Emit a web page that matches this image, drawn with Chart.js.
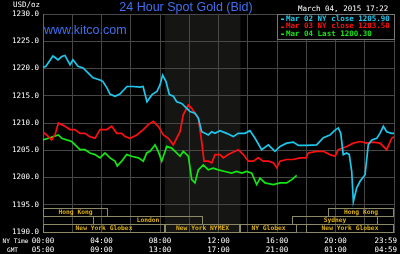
<!DOCTYPE html>
<html>
<head>
<meta charset="utf-8">
<script src="https://cdn.jsdelivr.net/npm/chart.js@4.4.0/dist/chart.umd.min.js"></script>
<style>
  html, body { margin: 0; padding: 0; background: #000; }
</style>
</head>
<body>
<canvas id="goldChart" width="400" height="254"></canvas>
<script>
// Hours since 00:00 NY time, and bid prices
const mar02Hours = [0, 0.2, 0.68, 1.03, 1.28, 1.5, 1.85, 2.05, 2.39, 2.74, 3.08, 3.42, 3.9, 4.1, 4.38, 4.58, 4.92, 5.26, 5.74, 6.15, 6.63, 6.84, 7.11, 7.45, 7.79, 8.0, 8.18, 8.41, 8.64, 8.91, 9.14, 9.48, 9.83, 10.05, 10.39, 10.62, 10.85, 11.08, 11.3, 11.54, 11.76, 12.1, 12.56, 13.01, 13.35, 13.81, 14.15, 14.5, 14.95, 15.41, 15.86, 16.21, 16.66, 17.11, 17.46, 18.03, 18.71, 19.17, 19.62, 19.97, 20.19, 20.36, 20.53, 20.77, 20.94, 21.11, 21.22, 21.45, 21.68, 22.02, 22.24, 22.48, 22.82, 23.04, 23.27, 23.5, 23.84, 24];
const mar02Bid = [1220.2, 1220.4, 1222.3, 1221.6, 1222.2, 1222.4, 1220.7, 1221.6, 1220.4, 1220.1, 1219.2, 1218.3, 1217.9, 1217.6, 1216.4, 1215.3, 1214.9, 1215.3, 1216.7, 1216.7, 1216.6, 1216.7, 1213.9, 1215.2, 1215.8, 1217.0, 1218.8, 1217.6, 1215.2, 1214.9, 1213.9, 1213.6, 1212.7, 1212.1, 1211.8, 1210.9, 1208.4, 1208.1, 1207.8, 1208.4, 1208.1, 1208.6, 1208.1, 1207.5, 1208.1, 1208.1, 1208.6, 1207.2, 1205.1, 1206.0, 1204.8, 1205.7, 1206.3, 1206.5, 1205.9, 1205.9, 1206.0, 1207.3, 1207.8, 1208.7, 1209.1, 1208.1, 1204.2, 1204.5, 1204.2, 1201.1, 1195.6, 1198.1, 1199.3, 1200.5, 1206.0, 1206.9, 1207.2, 1208.1, 1209.4, 1208.4, 1208.1, 1208.1];

const mar03Hours = [0, 0.25, 0.59, 0.82, 1.05, 1.28, 1.5, 1.85, 2.19, 2.53, 2.87, 3.21, 3.56, 3.9, 4.36, 4.7, 5.04, 5.38, 5.61, 5.95, 6.41, 6.86, 7.2, 7.54, 7.88, 8.23, 8.57, 8.91, 9.14, 9.37, 9.59, 9.94, 10.17, 10.39, 10.62, 10.85, 11.01, 11.3, 11.54, 11.76, 12.1, 12.33, 12.67, 13.13, 13.35, 13.7, 14.04, 14.38, 14.72, 15.06, 15.41, 15.75, 15.98, 16.21, 16.66, 17.11, 17.57, 17.98, 18.14, 18.71, 19.17, 19.62, 19.97, 20.19, 20.77, 21.22, 21.68, 22.13, 22.58, 23.04, 23.5, 23.84, 24];
const mar03Bid = [1208.3, 1207.8, 1206.9, 1207.8, 1210.0, 1209.7, 1209.4, 1208.8, 1208.8, 1208.1, 1208.1, 1207.5, 1207.2, 1208.8, 1208.8, 1209.4, 1208.1, 1208.1, 1207.5, 1207.2, 1207.8, 1208.8, 1209.7, 1210.3, 1209.4, 1207.8, 1207.2, 1206.0, 1207.2, 1208.4, 1211.5, 1213.3, 1212.7, 1211.8, 1210.9, 1206.6, 1203.0, 1203.0, 1202.7, 1204.2, 1204.2, 1203.6, 1204.2, 1204.8, 1205.1, 1204.2, 1203.0, 1203.0, 1203.6, 1203.0, 1203.0, 1202.7, 1201.8, 1203.0, 1203.3, 1203.3, 1203.6, 1203.6, 1204.5, 1204.8, 1204.8, 1204.2, 1203.9, 1205.1, 1205.7, 1206.3, 1206.6, 1206.3, 1206.5, 1206.3, 1205.1, 1207.2, 1207.5];

const mar04Hours = [0, 0.36, 0.7, 1.05, 1.28, 1.62, 1.96, 2.3, 2.53, 2.87, 3.21, 3.56, 3.9, 4.24, 4.58, 4.92, 5.08, 5.38, 5.72, 6.06, 6.52, 6.86, 7.09, 7.32, 7.66, 7.88, 8.12, 8.46, 8.8, 9.14, 9.37, 9.59, 9.94, 10.17, 10.39, 10.62, 10.96, 11.3, 11.64, 11.99, 12.44, 12.9, 13.24, 13.59, 13.93, 14.27, 14.61, 14.84, 15.18, 15.75, 16.21, 16.66, 17.01, 17.35];
const mar04Bid = [1206.9, 1207.2, 1207.5, 1207.8, 1207.2, 1206.9, 1206.6, 1205.7, 1205.1, 1205.1, 1204.5, 1204.2, 1203.6, 1204.5, 1203.6, 1203.0, 1202.1, 1203.0, 1204.2, 1203.9, 1203.6, 1203.0, 1204.5, 1204.8, 1206.0, 1204.8, 1203.0, 1205.7, 1205.4, 1204.5, 1203.9, 1204.8, 1203.9, 1199.6, 1199.0, 1201.4, 1202.3, 1201.4, 1201.7, 1201.4, 1201.1, 1200.8, 1201.1, 1200.8, 1201.1, 1200.8, 1198.7, 1199.9, 1199.0, 1198.7, 1199.0, 1199.0, 1199.6, 1200.4];

const legendLabels = ['Mar 02 NY close 1205.90', 'Mar 03 NY close 1203.50', 'Mar 04 Last 1200.30'];
const lineColors = ['#1ec8ec', '#ff1010', '#14e614'];

// x axis labels (every 4 hours)
const labelHours = [0, 4, 8, 12, 16, 20, 24];
const nyLabels = ['00:00', '04:00', '08:00', '12:00', '16:00', '20:00', '23:59'];
const gmtLabels = ['05:00', '09:00', '13:00', '17:00', '21:00', '01:00', '04:59'];

// trading sessions (row 0 = top)
const sessionNames = ['Hong Kong', 'Hong Kong', 'London', 'Sydney', 'New York Globex', 'New York NYMEX', 'NY Globex', 'New York Globex'];
const sessionRows  = [0, 0, 1, 1, 2, 2, 2, 2];
const sessionStart = [0, 19.5, 3.4, 17, 0, 8.33, 13.5, 18];
const sessionEnd   = [4.45, 24, 10.95, 22.9, 8.33, 13.5, 17.37, 24];
const nymexHours = [8.33, 13.5];

const mono = '"DejaVu Sans Mono", monospace';

function toPoints(hours, vals) {
  return hours.map((h, i) => ({ x: h, y: vals[i] }));
}

const kitcoDecor = {
  id: 'kitcoDecor',
  beforeDraw(chart) {
    const { ctx, chartArea: a, scales: { x } } = chart;
    ctx.save();
    ctx.fillStyle = '#000';
    ctx.fillRect(0, 0, chart.width, chart.height);
    // NYMEX pit hours shading
    const x0 = x.getPixelForValue(nymexHours[0]);
    const x1 = x.getPixelForValue(nymexHours[1]);
    ctx.fillStyle = '#151613';
    ctx.fillRect(x0, a.top, x1 - x0, a.bottom - a.top);
    ctx.restore();
  },
  afterDraw(chart) {
    const { ctx, chartArea: a, scales: { x } } = chart;
    ctx.save();

    // title and header texts
    ctx.textBaseline = 'middle';
    ctx.fillStyle = '#4070f0';
    ctx.font = '12.5px "Liberation Sans", Arial, sans-serif';
    ctx.textAlign = 'center';
    ctx.fillText('24 Hour Spot Gold (Bid)', 186, 7.5);
    ctx.textAlign = 'left';
    ctx.fillText('www.kitco.com', a.left + 1, 31);

    ctx.fillStyle = '#fff';
    ctx.font = '7.5px ' + mono;
    ctx.fillText('USD/oz', 13, 5.5);
    ctx.fillText('March 04, 2015 17:22', 298, 9.5);

    // legend box
    const lw = 117, lh = 25;
    const lx = a.right - lw, ly = a.top;
    ctx.fillStyle = '#000';
    ctx.fillRect(lx, ly, lw, lh);
    ctx.strokeStyle = '#777';
    ctx.lineWidth = 1;
    ctx.strokeRect(Math.round(lx) + 0.5, Math.round(ly) + 0.5, lw, lh);
    ctx.font = 'bold 7.5px ' + mono;
    legendLabels.forEach((t, i) => {
      const yy = ly + 5 + i * 7.5;
      ctx.fillStyle = lineColors[i];
      ctx.fillRect(lx + 4, Math.round(yy) - 0.5, 3, 1.5);
      ctx.fillText(t, lx + 9, yy);
    });

    // session boxes
    const rowH = 8;
    ctx.font = 'bold 6.3px ' + mono;
    ctx.textAlign = 'center';
    sessionNames.forEach((name, i) => {
      const sx0 = Math.round(x.getPixelForValue(sessionStart[i]));
      const sx1 = Math.round(x.getPixelForValue(sessionEnd[i]));
      const top = Math.round(a.bottom - (3 - sessionRows[i]) * rowH);
      ctx.strokeStyle = '#8c8a66';
      ctx.strokeRect(sx0 + 0.5, top + 0.5, sx1 - sx0 - 1, rowH);
      ctx.fillStyle = '#dcae10';
      ctx.fillText(name, (sx0 + sx1) / 2, top + rowH / 2 + 0.5);
    });

    // time axis labels
    ctx.fillStyle = '#fff';
    ctx.font = '6.2px ' + mono;
    ctx.fillText('NY Time', 15.5, 241);
    ctx.fillText('GMT', 12.5, 250);
    ctx.font = '7.5px ' + mono;
    ctx.textAlign = 'left';
    labelHours.forEach((h, i) => {
      const px = x.getPixelForValue(h);
      [nyLabels[i], gmtLabels[i]].forEach((t, j) => {
        const w = ctx.measureText(t).width;
        let left = px - w / 2;
        if (left + w > chart.width - 3) left = chart.width - 3 - w;
        ctx.fillText(t, left, 241 + j * 9);
      });
    });
    ctx.restore();
  }
};

const ctx = document.getElementById('goldChart').getContext('2d');
const chart = new Chart(ctx, {
  type: 'line',
  data: {
    datasets: [
      { label: legendLabels[0], data: toPoints(mar02Hours, mar02Bid), borderColor: lineColors[0] },
      { label: legendLabels[1], data: toPoints(mar03Hours, mar03Bid), borderColor: lineColors[1] },
      { label: legendLabels[2], data: toPoints(mar04Hours, mar04Bid), borderColor: lineColors[2] }
    ]
  },
  options: {
    responsive: false,
    animation: false,
    layout: { padding: { top: 14, right: 6, left: 0, bottom: 0 } },
    elements: {
      line: { borderWidth: 1.7, tension: 0, fill: false },
      point: { radius: 0 }
    },
    plugins: { legend: { display: false }, tooltip: { enabled: false }, title: { display: false } },
    scales: {
      x: {
        type: 'linear',
        min: 0,
        max: 24,
        afterFit(s) { s.height = 22; },
        ticks: { stepSize: 2, display: false },
        grid: { color: '#474747', drawTicks: false },
        border: { color: '#666' }
      },
      y: {
        min: 1190,
        max: 1230,
        afterFit(s) { s.width = 43; },
        ticks: {
          stepSize: 5,
          color: '#fff',
          padding: 4,
          font: { family: 'DejaVu Sans Mono', size: 7.5 },
          callback: v => v.toFixed(1)
        },
        grid: { color: '#474747', drawTicks: false },
        border: { color: '#666' }
      }
    }
  },
  plugins: [kitcoDecor]
});
</script>
</body>
</html>
